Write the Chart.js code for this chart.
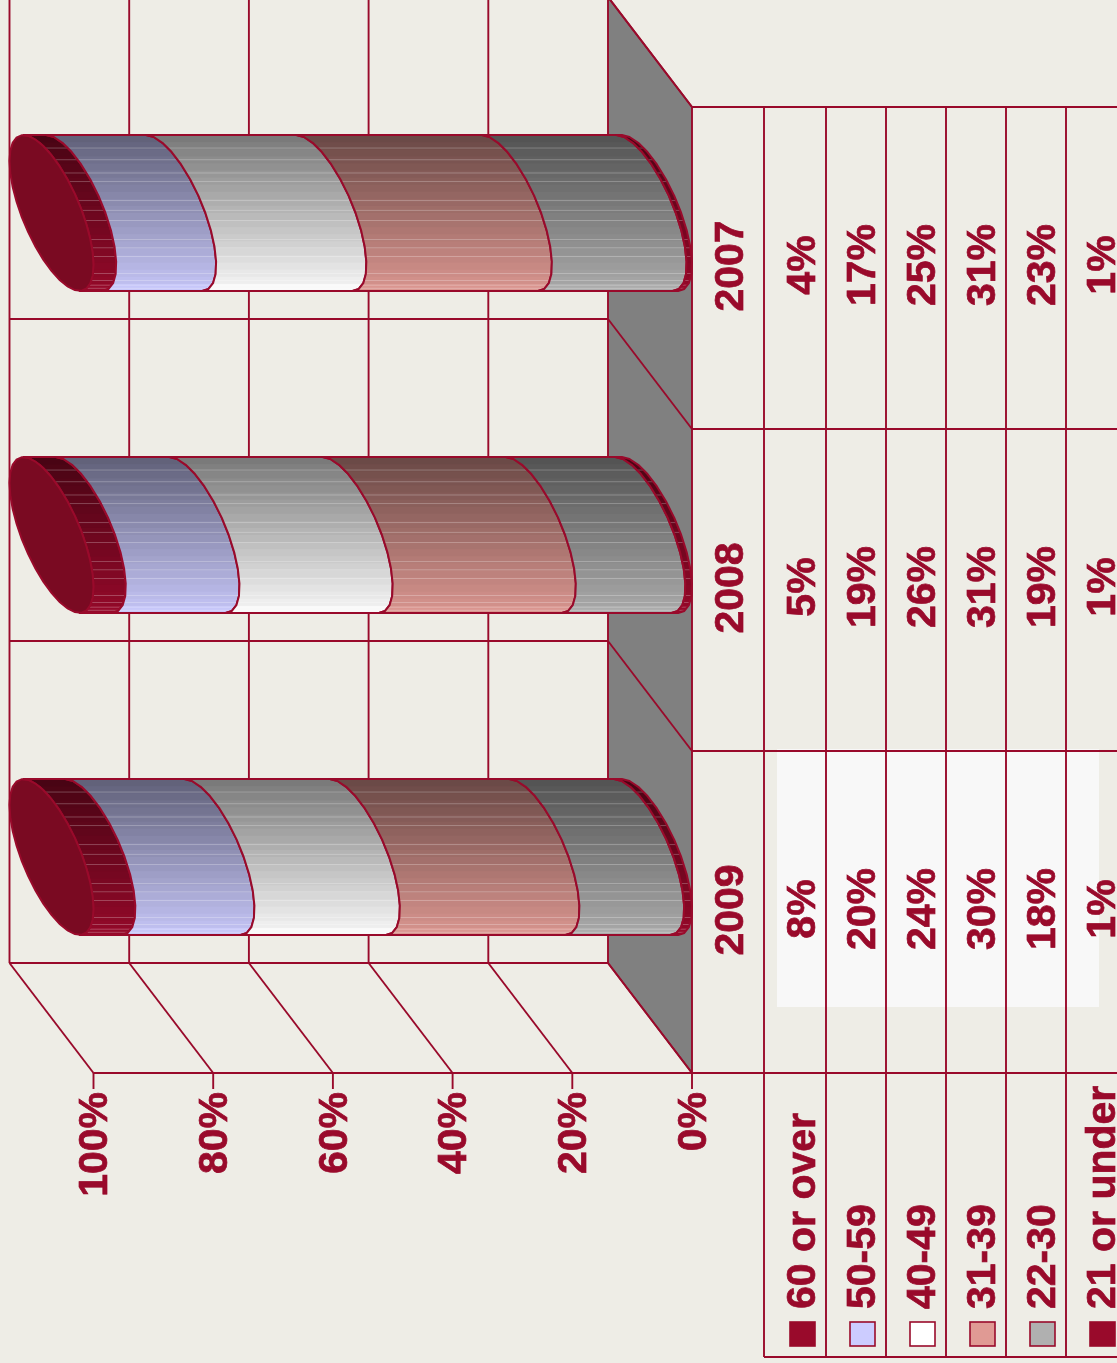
<!DOCTYPE html>
<html><head><meta charset="utf-8">
<style>html,body{margin:0;padding:0;background:#eeede6;overflow:hidden}canvas{display:block}</style>
<script src="https://cdn.jsdelivr.net/npm/chart.js@4"></script>
</head><body><canvas id="c" width="1117" height="1363"></canvas>
<script>
const years = ['2007', '2008', '2009'];
// percentages printed in the data table
const over60 = [4, 5, 8];
const age50 = [17, 19, 20];
const age40 = [25, 26, 24];
const age31 = [31, 31, 30];
const age22 = [23, 19, 18];
const under21 = [1, 1, 1];
// lengths of the drawn cylinder segments
const barOver60 = [3.8, 5.4, 7.0];
const barAge50 = [16.7, 19.0, 19.9];
const barAge40 = [25.1, 25.6, 24.3];
const barAge31 = [31.0, 30.6, 30.0];
const barAge22 = [22.5, 18.3, 17.5];
const barUnder21 = [0.9, 1.1, 1.3];
const seriesNames = ['60 or over', '50-59', '40-49', '31-39', '22-30', '21 or under'];
const seriesValues = [over60, age50, age40, age31, age22, under21];
const barValues = [barOver60, barAge50, barAge40, barAge31, barAge22, barUnder21];
const seriesColors = ['#990a2b', '#ccccff', '#ffffff', '#e09a94', '#b0b0b0', '#990a2b'];
const tickValues = [0, 20, 40, 60, 80, 100];

const INK = '#990a2b', BG = '#eeede6', FLOOR = '#808080', CAP = '#7a0a22';
const DX = 42, DY = 55;
const FONT = 'bold 41px "Liberation Sans", Arial, sans-serif';
const PHI = 48 * Math.PI / 180;
const tableCols = [692, 764, 826, 886, 946, 1006, 1066];
const textCols = [804, 864, 924, 984, 1044, 1104];
const swatchCols = [790, 850, 910, 970, 1030, 1090];
const highlights = [.08, .155, .24, .295, .417, .48, .545, .667, .72, .776, .885, .93, .96, .98];

function shade(hex, k) {
  const n = parseInt(hex.slice(1), 16);
  return `rgb(${((n >> 16) & 255) * k | 0},${((n >> 8) & 255) * k | 0},${(n & 255) * k | 0})`;
}
function shadeAt(f) { return f < .94 ? .47 + .5 * f : .94 + (f - .94); }
// right-hand half of the slanted section of the cylinder
function arcPts(cx, cy, hh, rev) {
  const pts = [], N = 14;
  for (let i = 0; i <= N; i++) {
    const t = PHI - Math.PI + Math.PI * i / N;
    pts.push([cx + DX * Math.cos(t), cy + hh * Math.cos(t - PHI)]);
  }
  return rev ? pts.reverse() : pts;
}
class CylinderBar extends Chart.BarElement {
  static id = 'cylinderBar';
  draw(ctx) {
    const { x, y, base, height } = this.getProps(['x', 'y', 'base', 'height']);
    const hh = height / 2, color = this.options.backgroundColor;
    const right = arcPts(base, y, hh, false), left = arcPts(x, y, hh, true);
    const path = new Path2D();
    right.concat(left).forEach((p, i) => i ? path.lineTo(p[0], p[1]) : path.moveTo(p[0], p[1]));
    path.closePath();
    ctx.save();
    ctx.save();
    ctx.clip(path);
    const bands = 22, x0 = Math.min(x, base) - DX - 2, w = Math.abs(base - x) + 2 * DX + 4;
    for (let i = 0; i < bands; i++) {
      ctx.fillStyle = shade(color, shadeAt((i + .5) / bands));
      ctx.fillRect(x0, y - hh + height * i / bands, w, height / bands + 1);
    }
    ctx.fillStyle = 'rgba(255,255,255,.25)';
    highlights.forEach(f => ctx.fillRect(x0, y - hh + height * f, w, 1));
    ctx.restore();
    ctx.strokeStyle = INK; ctx.lineWidth = 2; ctx.lineJoin = 'round';
    ctx.stroke(path);
    ctx.restore();
  }
}
class CylinderController extends Chart.BarController {
  static id = 'cylinder';
  static defaults = { ...Chart.BarController.defaults, dataElementType: 'cylinderBar' };
}
Chart.register(CylinderBar, CylinderController);

function vtext(ctx, s, x, y, align) {
  ctx.save(); ctx.translate(x, y); ctx.rotate(-Math.PI / 2);
  ctx.textAlign = align; ctx.textBaseline = 'middle';
  ctx.lineWidth = .7; ctx.strokeStyle = INK;
  ctx.strokeText(s, 0, 0); ctx.fillText(s, 0, 0);
  ctx.restore();
}
function seg(ctx, a, b, c, d) { ctx.beginPath(); ctx.moveTo(a, b); ctx.lineTo(c, d); ctx.stroke(); }

const wallsPlugin = {
  id: 'walls',
  beforeDraw(chart) {
    const ctx = chart.ctx;
    ctx.save();
    ctx.fillStyle = BG; ctx.fillRect(0, 0, chart.width, chart.height);
    // pale patch behind the 2009 column of the table
    ctx.fillStyle = '#f8f8f8'; ctx.fillRect(777, 749, 322, 258);
    ctx.restore();
  },
  beforeDatasetsDraw(chart) {
    const ctx = chart.ctx, X = chart.scales.x, Y = chart.scales.y, A = chart.chartArea;
    const band = (A.bottom - A.top) / years.length;
    const wt = A.top - DY, wb = A.bottom - DY, ft = A.top + DY, fb = A.bottom + DY;
    ctx.save();
    const x0 = X.getPixelForValue(0), x100 = X.getPixelForValue(100);
    ctx.fillStyle = FLOOR;
    ctx.beginPath(); ctx.moveTo(x0 - DX, wt); ctx.lineTo(x0 + DX, ft); ctx.lineTo(x0 + DX, fb); ctx.lineTo(x0 - DX, wb); ctx.closePath(); ctx.fill();
    ctx.strokeStyle = INK; ctx.lineWidth = 1.9;
    tickValues.forEach(v => {
      const px = X.getPixelForValue(v);
      seg(ctx, px - DX, wt, px - DX, wb);
      seg(ctx, px - DX, wb, px + DX, fb);
      seg(ctx, px + DX, fb, px + DX, fb + 16);
    });
    seg(ctx, x0 - DX, wt, x0 + DX, ft);
    for (let i = 0; i <= years.length; i++) {
      const w = wt + band * i, f = ft + band * i;
      seg(ctx, x100 - DX, w, x0 - DX, w);
      seg(ctx, x0 - DX, w, x0 + DX, f);
    }
    seg(ctx, x100 + DX, fb, x0 + DX, fb);
    // data table
    const tableBottom = 1357;
    seg(ctx, x0 + DX, ft, x0 + DX, fb);
    tableCols.slice(1).forEach(c => seg(ctx, c, ft, c, tableBottom));
    for (let i = 0; i <= years.length; i++) seg(ctx, x0 + DX, ft + band * i, chart.width, ft + band * i);
    seg(ctx, tableCols[1], tableBottom, chart.width, tableBottom);
    ctx.fillStyle = INK; ctx.font = FONT;
    years.forEach((yr, i) => {
      const cy = Y.getPixelForValue(i) + DY;
      vtext(ctx, yr, 732, cy - 2, 'center');
      seriesValues.forEach((vals, s) => vtext(ctx, vals[i] + '%', textCols[s], cy - 3, 'center'));
    });
    seriesNames.forEach((nm, s) => {
      ctx.fillStyle = INK;
      vtext(ctx, nm, textCols[s], 1309, 'left');
      const sx = swatchCols[s], sy = 1322;
      ctx.fillStyle = seriesColors[s]; ctx.fillRect(sx, sy, 25, 24);
      ctx.lineWidth = 1.6; ctx.strokeStyle = INK; ctx.strokeRect(sx, sy, 25, 24);
    });
    ctx.restore();
  },
  afterDatasetsDraw(chart) {
    // visible end cap at the 100% end of each cylinder
    const ctx = chart.ctx, meta = chart.getDatasetMeta(seriesNames.length - 1);
    meta.data.forEach(el => {
      const { x, y, height } = el.getProps(['x', 'y', 'height']);
      ctx.beginPath();
      for (let i = 0; i < 32; i++) {
        const t = 2 * Math.PI * i / 32;
        const px = x + DX * Math.cos(t), py = y + height / 2 * Math.cos(t - PHI);
        i ? ctx.lineTo(px, py) : ctx.moveTo(px, py);
      }
      ctx.closePath();
      ctx.fillStyle = CAP; ctx.fill();
      ctx.strokeStyle = INK; ctx.lineWidth = 2; ctx.stroke();
    });
  }
};

const datasets = seriesNames.map((name, s) => ({
  label: name,
  data: barValues[s],
  backgroundColor: seriesColors[s],
  barPercentage: 0.484,
  categoryPercentage: 1,
  clip: false
})).reverse();

new Chart(document.getElementById('c'), {
  type: 'cylinder',
  data: { labels: years, datasets },
  plugins: [wallsPlugin],
  options: {
    indexAxis: 'y',
    responsive: false,
    animation: false,
    events: [],
    layout: { padding: { left: 51.5, right: 467, top: 52, bottom: 0 } },
    plugins: { legend: { display: false }, tooltip: { enabled: false }, title: { display: false } },
    scales: {
      x: {
        type: 'linear', reverse: true, stacked: true, min: 0, max: 100,
        afterFit(s) { s.height = 345; s.paddingLeft = 0; s.paddingRight = 0; },
        grid: { display: false, drawTicks: false }, border: { display: false },
        ticks: {
          stepSize: 20, autoSkip: false, minRotation: 90, maxRotation: 90,
          padding: 74, labelOffset: 44.5, color: INK,
          textStrokeColor: INK, textStrokeWidth: .7,
          font: { family: '"Liberation Sans", Arial, sans-serif', size: 41, weight: 'bold' },
          callback: v => v + '%'
        }
      },
      y: { type: 'category', stacked: true, display: false }
    }
  }
});
</script></body></html>
